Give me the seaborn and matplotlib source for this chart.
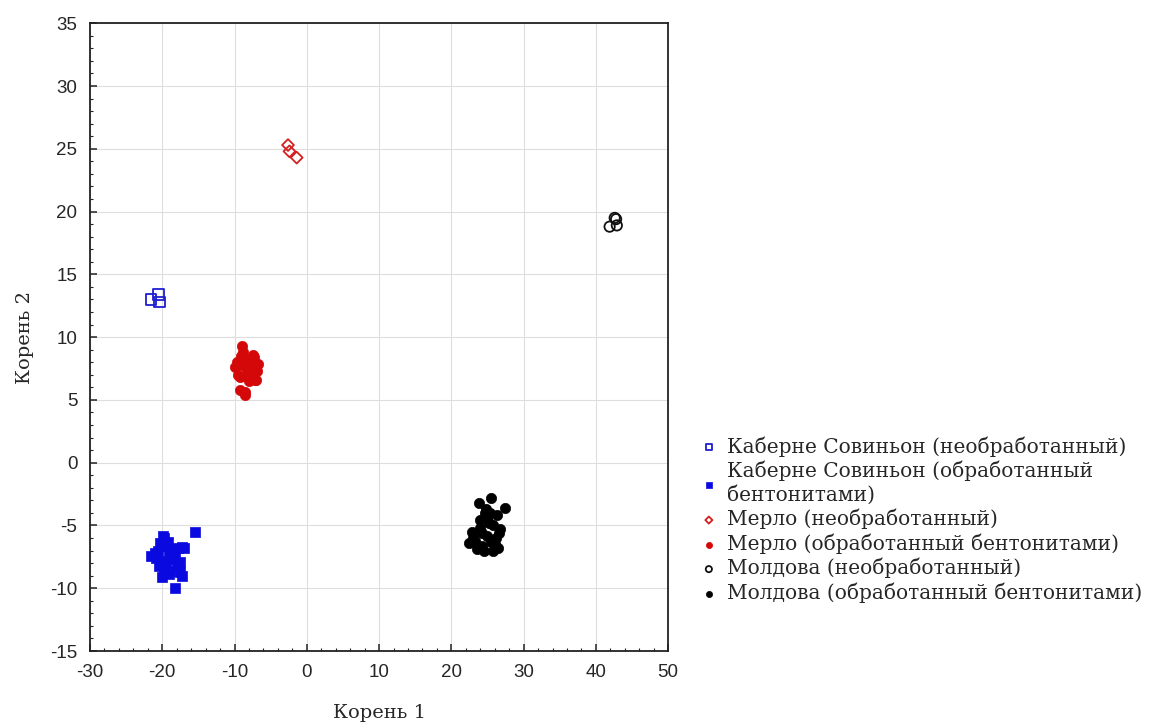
import numpy as np
import pandas as pd
import matplotlib
matplotlib.use("Agg")
import matplotlib.pyplot as plt
from matplotlib.ticker import MultipleLocator
import seaborn as sns

# --- Data ---
cab_raw_x = [-21.6, -20.5, -20.4]
cab_raw_y = [13.0, 13.4, 12.8]

cab_bent_x = [-15.5, -18.2, -20.0, -17.3, -21.5, -19.9, -20.6, -19.2, -18.6, -17.8,
              -19.5, -20.3, -18.9, -17.5, -19.0, -20.8, -18.4, -19.7, -17.0, -18.0,
              -20.1, -19.3, -18.7, -17.6, -21.0, -19.8, -18.3, -20.5, -17.2, -19.1]
cab_bent_y = [-5.5, -10.0, -9.1, -9.0, -7.4, -5.8, -7.0, -6.3, -7.5, -6.8,
              -8.0, -6.4, -8.6, -7.9, -7.2, -7.6, -6.9, -8.4, -6.8, -8.2,
              -7.8, -6.6, -7.7, -8.7, -7.2, -6.0, -7.3, -8.2, -6.7, -8.9]

merlot_raw_x = [-2.6, -2.4, -1.4]
merlot_raw_y = [25.3, 24.8, 24.3]

merlot_bent_x = [-8.9, -8.6, -9.2, -10.0, -6.7, -7.5, -8.2, -9.5, -7.0, -8.8,
                 -7.8, -9.0, -8.0, -6.9, -9.7, -8.4, -7.3, -8.7, -7.6, -9.1,
                 -8.1, -7.2, -8.5, -9.3, -7.9]
merlot_bent_y = [9.3, 5.4, 5.8, 7.6, 7.9, 8.6, 8.2, 7.0, 6.6, 8.8,
                 7.4, 7.8, 6.5, 7.3, 8.0, 7.6, 8.4, 6.9, 7.0, 8.5,
                 7.9, 6.6, 5.6, 6.8, 8.1]

mold_raw_x = [42.6, 41.9, 42.9, 42.8]
mold_raw_y = [19.5, 18.8, 18.9, 19.4]

mold_bent_x = [23.8, 25.5, 27.4, 26.3, 24.6, 25.2, 22.8, 24.0, 25.8, 26.6,
               23.3, 24.9, 25.5, 24.2, 26.0, 23.0, 24.5, 25.7, 26.4, 23.6,
               25.0, 24.3, 26.2, 22.5, 25.3, 24.8, 23.9, 26.8]
mold_bent_y = [-3.2, -2.8, -3.6, -4.2, -4.0, -4.8, -5.5, -5.2, -5.0, -5.6,
               -6.2, -5.8, -6.3, -6.6, -6.5, -6.0, -7.0, -7.0, -6.8, -6.9,
               -4.5, -5.6, -6.0, -6.4, -4.0, -3.7, -4.6, -5.3]

groups = [
    ("Каберне Совиньон (необработанный)", cab_raw_x, cab_raw_y, "s", "#1f1fd0", False),
    ("Каберне Совиньон (обработанный\nбентонитами)", cab_bent_x, cab_bent_y, "s", "#0a0ae0", True),
    ("Мерло (необработанный)", merlot_raw_x, merlot_raw_y, "D", "#d42020", False),
    ("Мерло (обработанный бентонитами)", merlot_bent_x, merlot_bent_y, "o", "#d40808", True),
    ("Молдова (необработанный)", mold_raw_x, mold_raw_y, "o", "#111111", False),
    ("Молдова (обработанный бентонитами)", mold_bent_x, mold_bent_y, "o", "#000000", True),
]


def main():
    sns.set_style("white")
    plt.rcParams['font.family'] = ['Liberation Sans', 'DejaVu Sans']
    plt.rcParams['axes.unicode_minus'] = False

    fig = plt.figure(figsize=(11.61, 7.27), dpi=100)
    ax = fig.add_axes([0.0775, 0.1045, 0.498, 0.8635])

    for label, xs, ys, marker, color, filled in groups:
        df = pd.DataFrame({"x": xs, "y": ys})
        if filled:
            sns.scatterplot(data=df, x="x", y="y", ax=ax, marker=marker, s=55,
                            color=color, edgecolor=color, linewidth=0.5, label=label)
        else:
            size = 55 if marker != "D" else 36
            sns.scatterplot(data=df, x="x", y="y", ax=ax, marker=marker, s=size,
                            facecolor="none", edgecolor=color, linewidth=1.3, label=label)

    ax.set_xlim(-30, 50)
    ax.set_ylim(-15, 35)
    ax.xaxis.set_major_locator(MultipleLocator(10))
    ax.xaxis.set_minor_locator(MultipleLocator(2))
    ax.yaxis.set_major_locator(MultipleLocator(5))
    ax.yaxis.set_minor_locator(MultipleLocator(1))
    ax.tick_params(which="major", direction="in", length=5, width=1.1, labelsize=13.5,
                   bottom=True, left=True, top=False, right=False, pad=9,
                   color="#222222")
    ax.tick_params(which="minor", direction="in", length=2.5, width=0.8,
                   bottom=True, left=True, top=False, right=False, color="#222222")
    ax.grid(True, which="major", color="#dedede", linewidth=0.8)
    for sp in ax.spines.values():
        sp.set_color("#222222")
        sp.set_linewidth(1.3)

    ax.set_xlabel("Корень 1", family=["DejaVu Serif"], fontsize=14, labelpad=17)
    ax.set_ylabel("Корень 2", family=["DejaVu Serif"], fontsize=14, labelpad=12)

    handles, labels = ax.get_legend_handles_labels()
    ax.get_legend().remove()
    leg = fig.legend(handles, labels, loc="upper left", bbox_to_anchor=(0.588, 0.425),
                     frameon=False, markerscale=0.6, handlelength=0.8, handletextpad=0.5,
                     labelspacing=0.2, prop={"family": "DejaVu Serif", "size": 14.5})
    for t in leg.get_texts():
        t.set_linespacing(1.25)

    fig.savefig("out.png", dpi=100)


if __name__ == "__main__":
    main()
